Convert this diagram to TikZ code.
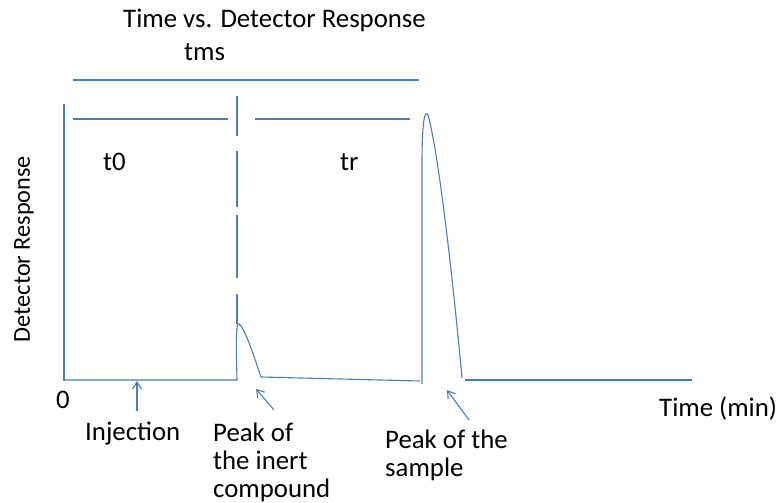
\documentclass[tikz,border=0pt]{standalone}
\usepackage{fontspec}
\setmainfont{Carlito}
\usetikzlibrary{arrows.meta}
\definecolor{lineblue}{HTML}{4A7EBB}
\tikzset{
  curve/.style={draw=lineblue, line width=1.1pt},
  thick line/.style={draw=lineblue, line width=2pt},
  label text/.style={inner sep=0pt, anchor=base west, font=\fontsize{26.8}{28}\selectfont, align=left},
  pointer/.style={draw=lineblue, line width=1.1pt, -{Straight Barb[length=7pt,width=9pt]}},
}
\begin{document}
\begin{tikzpicture}[x=1pt,y=-1pt]
\useasboundingbox (0,0) rectangle (780,503);

% titles
\node[label text] (title) at (123,28) {Time vs. Detector Response};
\node[label text] (tms) at (184,61) {tms};
\node[label text] (t0) at (103,171) {t0};
\node[label text] (tr) at (340,171) {tr};
\node[label text] (zero) at (56,408) {0};
\node[label text] (timeaxis) at (659,416) {Time (min)};
\node[inner sep=0pt, rotate=90, font=\fontsize{24.3}{28}\selectfont] (ylab) at (24,249) {Detector Response};

% interval bars
\draw[curve] (73,80) -- (419,80);
\draw[curve] (73,119) -- (228,119);
\draw[curve] (255,119) -- (410,119);

% vertical axis and dashed marker
\draw[thick line] (64,104) -- (64,381);
\draw[thick line] (237,96) -- (237,136);
\draw[thick line] (237,151) -- (237,207);
\draw[thick line] (237,215) -- (237,278);
\draw[curve] (237,294) -- (237,324);

% baseline with the two peaks
\draw[curve] (64,380) -- (237,380)
  .. controls (236,340) and (236,322) .. (239,324)
  .. controls (244,327) and (252,350) .. (261,377)
  -- (420,381);
\draw[curve] (422,384) -- (422,165)
  .. controls (422,118) and (425,110) .. (428,115)
  .. controls (438,150) and (452,270) .. (462,378);
\draw[curve] (465,380) -- (692,380);

% annotations (multi-line labels sit on the baseline of their last line)
\node[label text] (inj) at (85,440) {Injection};
\node[label text] (inert) at (213,497) {Peak of\\the inert\\compound};
\node[label text] (sample) at (385,476) {Peak of the\\sample};

\coordinate (injtail) at (137,411);
\coordinate (injhead) at (137,381);
\coordinate (inerttail) at (274,410);
\coordinate (inerthead) at (256,389);
\coordinate (sampletail) at (469,420);
\coordinate (samplehead) at (447,390);
\draw[pointer] (injtail) -- (injhead);
\draw[pointer] (inerttail) -- (inerthead);
\draw[pointer] (sampletail) -- (samplehead);
\end{tikzpicture}
\end{document}
